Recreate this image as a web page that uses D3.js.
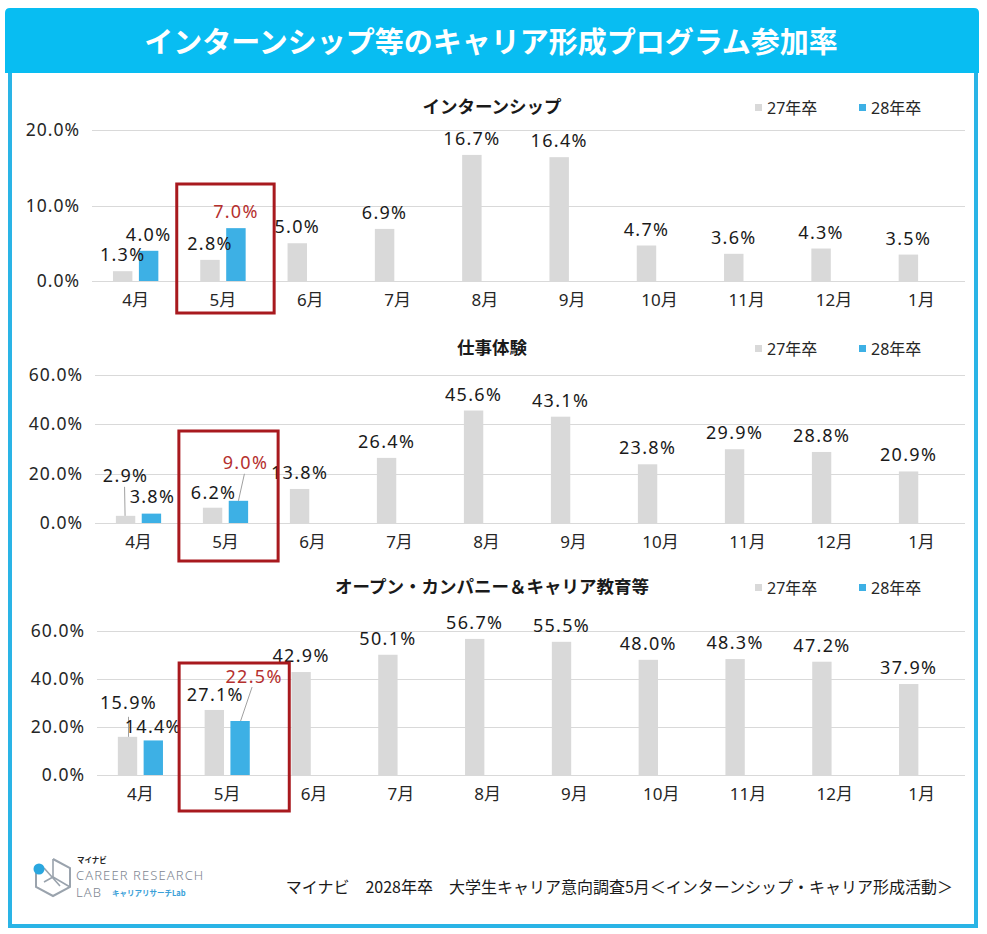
<!DOCTYPE html>
<html><head><meta charset="utf-8">
<script src="https://cdn.jsdelivr.net/npm/d3@7"></script>
<style>
html,body{margin:0;padding:0;background:#fff;}
svg{display:block;font-family:"Noto Sans","Noto Sans CJK JP",sans-serif;}
</style></head>
<body><svg id="chart" width="987" height="934"></svg>
<script>
// ---------------- data ----------------
const months = ["4月","5月","6月","7月","8月","9月","10月","11月","12月","1月"];
const seriesNames = ["27年卒","28年卒"];
const chartTitle = "インターンシップ等のキャリア形成プログラム参加率";
const panelTitles = ["インターンシップ","仕事体験","オープン・カンパニー＆キャリア教育等"];
const intern27 = [1.3, 2.8, 5.0, 6.9, 16.7, 16.4, 4.7, 3.6, 4.3, 3.5];
const intern28 = [4.0, 7.0];
const work27 = [2.9, 6.2, 13.8, 26.4, 45.6, 43.1, 23.8, 29.9, 28.8, 20.9];
const work28 = [3.8, 9.0];
const open27 = [15.9, 27.1, 42.9, 50.1, 56.7, 55.5, 48.0, 48.3, 47.2, 37.9];
const open28 = [14.4, 22.5];
const ticksIntern = [0, 10, 20];
const ticksWork = [0, 20, 40, 60];
const ticksOpen = [0, 20, 40, 60];
const highlightMonth = "5月";
const sourceText = "マイナビ　2028年卒　大学生キャリア意向調査5月＜インターンシップ・キャリア形成活動＞";

// ---------------- layout / style ----------------
const COL27 = "#d9d9d9", COL28 = "#3db0e5", BLUE = "#08bdf2", RED = "#a8191e";
const panels = [
  {title: panelTitles[0], s27: intern27, s28: intern28, ticks: ticksIntern, x0: 92, yBase: 281, yTop: 130, titleY: 113,
   box: {l: -23.5, r: 28.5, t: 184, b: 313},
   adj: []},
  {title: panelTitles[1], s27: work27, s28: work28, ticks: ticksWork, x0: 95, yBase: 523, yTop: 375, titleY: 354,
   box: {l: -24, r: 30, t: 431, b: 561},
   adj: [
     {s: 0, i: 0, dx: 0, dy: -24, leader: {x1: -1, y1: 5, x2: -0.5}},
     {s: 1, i: 0, dx: 1, dy: -1},
     {s: 0, i: 1, dx: 1, dy: 1},
     {s: 1, i: 1, dx: 7, dy: -22, leader: {x1: -1, y1: 5, x2: 0}}
   ]},
  {title: panelTitles[2], s27: open27, s28: open28, ticks: ticksOpen, x0: 97, yBase: 775, yTop: 631, titleY: 593,
   box: {l: -25.5, r: 39.5, t: 663, b: 811},
   adj: [
     {s: 0, i: 0, dx: 1, dy: -18, leader: {x1: 0, y1: 8, x2: 1}},
     {s: 1, i: 0, dx: 0, dy: 3},
     {s: 0, i: 1, dx: 1, dy: 1},
     {s: 1, i: 1, dx: 14, dy: -28, leader: {x1: -2, y1: 4, x2: 0.5}}
   ]}
];

const svg = d3.select("#chart");

// frame
svg.append("rect").attr("x", 10).attr("y", 60).attr("width", 966).attr("height", 866)
  .attr("fill", "#fff").attr("stroke", "#2ab4e6").attr("stroke-width", 4);
svg.append("path")
  .attr("d", "M5,73 L5,13 Q5,8 10,8 L974,8 Q979,8 979,13 L979,73 Z")
  .attr("fill", BLUE);
svg.append("text").attr("x", 491).attr("y", 53).attr("text-anchor", "middle")
  .attr("font-family", "'Noto Sans CJK JP',sans-serif")
  .attr("font-size", 29).attr("font-weight", 700).attr("fill", "#fff").text(chartTitle);

panels.forEach((p) => {
  const x = d3.scaleBand().domain(months).range([p.x0, 965]).paddingInner(0.48).paddingOuter(0.24);
  const xs = d3.scaleBand().domain(seriesNames).range([0, x.bandwidth()]).paddingInner(0.25);
  const y = d3.scaleLinear().domain([0, d3.max(p.ticks)]).range([p.yBase, p.yTop]);
  const g = svg.append("g");

  // gridlines
  g.selectAll("line.grid").data(p.ticks).join("line")
    .attr("x1", p.x0).attr("x2", 965)
    .attr("y1", d => Math.round(y(d)) + 0.5).attr("y2", d => Math.round(y(d)) + 0.5)
    .attr("stroke", "#d9d9d9").attr("stroke-width", 1);

  // y axis labels
  const yAxis = d3.axisLeft(y).tickValues(p.ticks).tickSize(0).tickPadding(0)
    .tickFormat(d => d3.format(".1f")(d) + "%");
  const ya = g.append("g").attr("transform", `translate(${p.x0 - 12},0)`).call(yAxis);
  ya.select(".domain").remove();
  ya.selectAll("text").attr("font-size", 17.5).attr("fill", "#262626")
    .attr("font-family", "'Noto Sans','Noto Sans CJK JP',sans-serif").attr("letter-spacing", 1);

  // x axis labels
  const xAxis = d3.axisBottom(x).tickSize(0).tickPadding(0);
  const xa = g.append("g").attr("transform", `translate(0,${p.yBase + 13})`).call(xAxis);
  xa.select(".domain").remove();
  xa.selectAll("text").attr("font-size", 17).attr("fill", "#262626")
    .attr("font-family", "'Noto Sans','Noto Sans CJK JP',sans-serif");

  // bars
  const data = [];
  p.s27.forEach((v, i) => data.push({s: 0, i, v}));
  p.s28.forEach((v, i) => data.push({s: 1, i, v}));
  data.forEach(d => {
    d.cx = x(months[d.i]) + xs(seriesNames[d.s]) + xs.bandwidth() / 2;
    d.top = y(d.v);
    const a = p.adj.find(o => o.s === d.s && o.i === d.i) || {dx: 0, dy: 0};
    d.lx = d.cx + a.dx;
    d.ly = d.top - 10 + a.dy;
    d.leader = a.leader;
  });
  g.selectAll("rect.bar").data(data).join("rect")
    .attr("x", d => x(months[d.i]) + xs(seriesNames[d.s]))
    .attr("width", xs.bandwidth())
    .attr("y", d => y(d.v)).attr("height", d => y(0) - y(d.v))
    .attr("fill", d => d.s === 0 ? COL27 : COL28);

  // leader lines
  g.selectAll("line.leader").data(data.filter(d => d.leader)).join("line")
    .attr("x1", d => d.lx + d.leader.x1).attr("y1", d => d.ly + d.leader.y1)
    .attr("x2", d => d.cx + d.leader.x2).attr("y2", d => d.top)
    .attr("stroke", "#a0a0a0").attr("stroke-width", 1);

  // value labels
  g.selectAll("text.val").data(data).join("text")
    .attr("x", d => d.lx).attr("y", d => d.ly)
    .attr("text-anchor", "middle").attr("font-size", 18).attr("letter-spacing", 1.3)
    .attr("fill", d => (d.s === 1 && months[d.i] === highlightMonth) ? "#b5302e" : "#1a1a1a")
    .text(d => d3.format(".1f")(d.v) + "%");

  // panel title
  g.append("text").attr("x", 492).attr("y", p.titleY).attr("text-anchor", "middle")
    .attr("font-family", "'Noto Sans CJK JP',sans-serif")
    .attr("font-size", 17.5).attr("font-weight", 700).attr("fill", "#1a1a1a").text(p.title);

  // legend
  const lg = g.append("g").attr("transform", `translate(755,${p.titleY - 5})`);
  seriesNames.forEach((s, k) => {
    const ox = k * 104;
    lg.append("rect").attr("x", ox).attr("y", -4).attr("width", 7).attr("height", 7)
      .attr("fill", k === 0 ? COL27 : COL28);
    lg.append("text").attr("x", ox + 12).attr("y", 6).attr("font-size", 16)
      .attr("fill", "#262626").text(s);
  });

  // highlight box
  const bx0 = x(highlightMonth) + p.box.l, bx1 = x(highlightMonth) + x.bandwidth() + p.box.r;
  g.append("rect").attr("x", bx0).attr("y", p.box.t).attr("width", bx1 - bx0).attr("height", p.box.b - p.box.t)
    .attr("fill", "none").attr("stroke", RED).attr("stroke-width", 3);
});

// source text
svg.append("text").attr("x", 953).attr("y", 893).attr("text-anchor", "end")
  .attr("font-family", "'Noto Sans CJK JP',sans-serif")
  .attr("font-size", 16).attr("fill", "#1a1a1a").text(sourceText);

// logo
const logo = svg.append("g");
logo.append("path").attr("d", "M53,859 L70,868 L70,887 L53,896 L36,887 L36,873")
  .attr("fill", "none").attr("stroke", "#9aa3ad").attr("stroke-width", 2);
logo.append("path").attr("d", "M53,859 L53,877 L70,887 M53,877 L44,882 M44,868 L60,886")
  .attr("fill", "none").attr("stroke", "#9aa3ad").attr("stroke-width", 1.6);
logo.append("circle").attr("cx", 39).attr("cy", 869).attr("r", 5.5).attr("fill", "#2aa7df");
logo.append("text").attr("x", 77).attr("y", 863).attr("font-size", 7.5).attr("font-weight", 700)
  .attr("font-family", "'Noto Sans CJK JP',sans-serif").attr("fill", "#222").text("マイナビ");
logo.append("text").attr("x", 76).attr("y", 880).attr("font-size", 13).attr("font-weight", 300)
  .attr("letter-spacing", 1.1).attr("fill", "#7d8590").text("CAREER RESEARCH");
logo.append("text").attr("x", 76).attr("y", 897).attr("font-size", 13).attr("font-weight", 300)
  .attr("letter-spacing", 1.1).attr("fill", "#7d8590").text("LAB");
logo.append("text").attr("x", 112).attr("y", 896).attr("font-size", 7.5).attr("font-weight", 700)
  .attr("font-family", "'Noto Sans CJK JP',sans-serif").attr("fill", "#3aa0d8").text("キャリアリサーチLab");
</script></body></html>
